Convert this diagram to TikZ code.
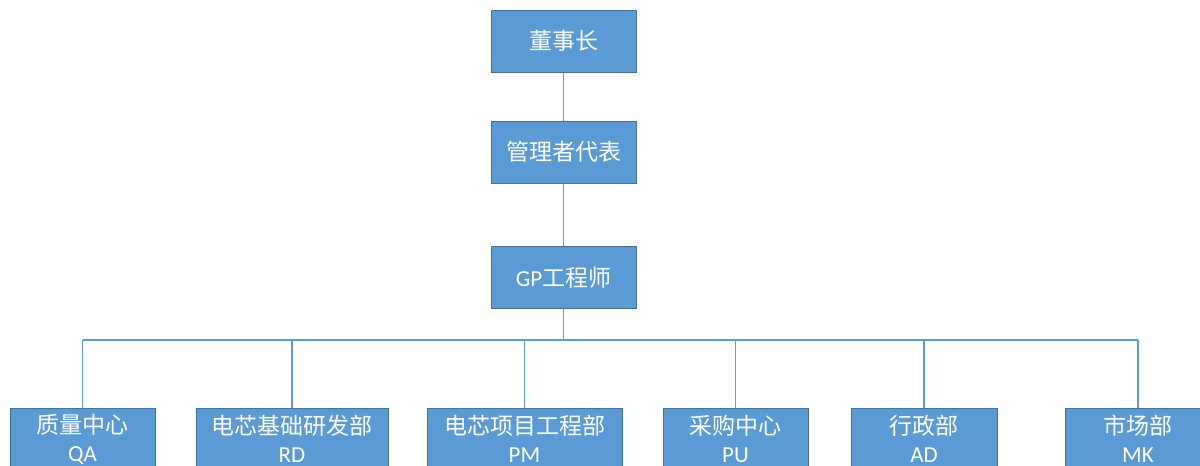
\documentclass[tikz,border=0pt]{standalone}
\usepackage{fontspec}
\setmainfont{Carlito}
\newfontfamily\cjk{Noto Sans CJK SC}
\definecolor{boxblue}{HTML}{5B9BD5}
\definecolor{boxedge}{HTML}{41719C}
\tikzset{
  unit/.style={draw=boxedge,fill=boxblue,line width=1pt,text=white,
    minimum height=62pt,inner sep=0pt,align=center,
    font=\fontsize{23}{28}\selectfont},
  link/.style={draw=boxblue,line width=1.6pt}
}

\begin{document}
\begin{tikzpicture}[x=1pt,y=-1pt]
\useasboundingbox (0,0) rectangle (1200,466);
\clip (0,0) rectangle (1200,466);
%---------------------------------------------------
\node[unit,minimum width=145pt] (chair) at (563.5,41)    {\cjk 董事长};
\node[unit,minimum width=145pt] (rep)   at (563.5,152)   {\cjk 管理者代表};
\node[unit,minimum width=145pt] (gp)    at (563.5,277.5) {GP\cjk 工程师};
\coordinate (bus) at (563.5,340);
%---------------------------------------------------
\node[unit,minimum width=145pt] (qa) at (82.5,439)  {{\cjk 质量中心}\\QA};
\node[unit,minimum width=192pt] (rd) at (292,439)   {{\cjk 电芯基础研发部}\\RD};
\node[unit,minimum width=195pt] (pm) at (524.5,439) {{\cjk 电芯项目工程部}\\PM};
\node[unit,minimum width=145pt] (pu) at (735.5,439) {{\cjk 采购中心}\\PU};
\node[unit,minimum width=146pt] (ad) at (924,439)   {{\cjk 行政部}\\AD};
\node[unit,minimum width=145pt] (mk) at (1138,439)  {{\cjk 市场部}\\MK};
%---------------------------------------------------
\draw[link] (chair) -- (rep);
\draw[link] (rep) -- (gp);
\draw[link] (gp) -- (bus);
\draw[link] (qa.north |- bus) -- (mk.north |- bus);
\foreach \n in {qa,rd,pm,pu,ad,mk}
  \draw[link] (\n.north) -- (\n.north |- bus);
\end{tikzpicture}
\end{document}
